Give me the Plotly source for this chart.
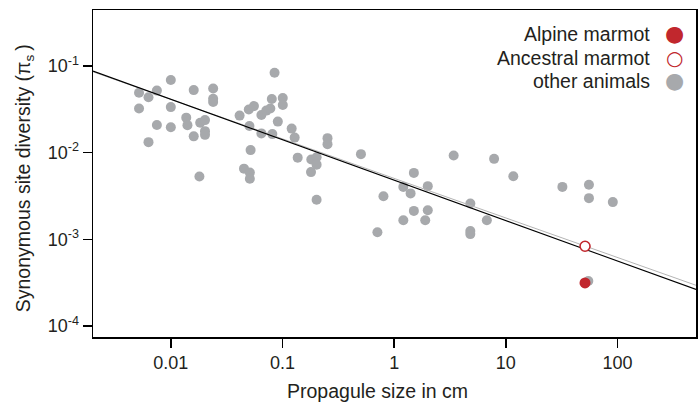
import plotly.graph_objects as go

# ---- data ----
other_size_cm = [
    0.00519, 0.00519, 0.00631, 0.00631, 0.00750, 0.00750, 0.0100, 0.0100, 0.0100,
    0.01374, 0.01409, 0.01603, 0.01603, 0.01803, 0.01832, 0.02023, 0.02023, 0.02023,
    0.02393, 0.02393, 0.02393, 0.0413, 0.0499, 0.0506, 0.0555, 0.0518, 0.0452,
    0.0510, 0.0510, 0.0647, 0.0647, 0.0716, 0.0778, 0.0802, 0.0849, 0.0811,
    0.0908, 0.1005, 0.1006, 0.1208, 0.1285, 0.1368, 0.181, 0.180, 0.202,
    0.202, 0.202, 0.253, 0.253, 0.504, 0.708, 0.802, 1.208, 1.208,
    1.403, 1.501, 1.501, 1.897, 2.000, 2.000, 3.41, 4.81, 4.81,
    4.81, 6.76, 7.85, 11.67, 32.1, 55.5, 55.5, 90.8, 54.8,
]
other_pi_s = [
    0.0492, 0.0323, 0.0436, 0.01324, 0.0521, 0.0209, 0.0689, 0.0336, 0.0197,
    0.0254, 0.0208, 0.0528, 0.01545, 0.00532, 0.02213, 0.02377, 0.01774, 0.01607,
    0.0550, 0.0419, 0.0384, 0.0268, 0.0315, 0.0203, 0.0345, 0.01071, 0.00655,
    0.00589, 0.00501, 0.01671, 0.0272, 0.0306, 0.0323, 0.0416, 0.0837, 0.01640,
    0.02286, 0.0427, 0.0355, 0.01897, 0.01493, 0.00877, 0.00836, 0.00597, 0.00885,
    0.00728, 0.00287, 0.01473, 0.01256, 0.00962, 0.00121, 0.00315, 0.00403, 0.00166,
    0.00339, 0.00585, 0.00213, 0.00166, 0.00411, 0.00217, 0.00929, 0.00259, 0.00125,
    0.00115, 0.00166, 0.00849, 0.00536, 0.00403, 0.00426, 0.00299, 0.00269, 0.000331,
]
alpine_size_cm = [51.2]
alpine_pi_s = [0.000314]
ancestral_size_cm = [51.2]
ancestral_pi_s = [0.000833]

# regression lines (end points)
fit_all_x = [0.00201, 505.0]
fit_all_y = [0.0875, 0.000264]
fit_other_x = [0.00201, 505.0]
fit_other_y = [0.0859, 0.000295]

x_tickvals = [0.01, 0.1, 1, 10, 100]
x_ticktext = ["0.01", "0.1", "1", "10", "100"]
y_tickvals = [1e-4, 1e-3, 1e-2, 1e-1]
y_ticktext = ["10<sup>-4</sup>", "10<sup>-3</sup>", "10<sup>-2</sup>", "10<sup>-1</sup>"]

legend_labels = ["Alpine marmot", "Ancestral marmot", "other animals"]
legend_glyphs = ["\u25CF", "\u25CB", "\u25CF"]

GRAY = "#A7A9AC"
RED = "#C1272D"
TXT = "#231F20"
FONT = "Liberation Sans, Arial, Helvetica, sans-serif"

fig = go.Figure()
fig.add_trace(go.Scatter(
    x=other_size_cm, y=other_pi_s, mode="markers",
    marker=dict(size=10, color=GRAY, line=dict(width=0)), name="other animals"))
fig.add_trace(go.Scatter(
    x=fit_other_x, y=fit_other_y, mode="lines",
    line=dict(color="#B5B5B5", width=1), name="fit other"))
fig.add_trace(go.Scatter(
    x=fit_all_x, y=fit_all_y, mode="lines",
    line=dict(color="#000000", width=1.1), name="fit"))
fig.add_trace(go.Scatter(
    x=alpine_size_cm, y=alpine_pi_s, mode="markers",
    marker=dict(size=11, color=RED, line=dict(width=0)), name="Alpine marmot"))
fig.add_trace(go.Scatter(
    x=ancestral_size_cm, y=ancestral_pi_s, mode="markers",
    marker=dict(size=10, color="white", line=dict(color=RED, width=1.6)),
    name="Ancestral marmot"))

W, H = 700, 417
L, R, T, B = 93, 2, 10, 80
pw, ph = W - L - R, H - T - B

def px(xpix):
    return (xpix - L) / pw

def py(ypix):
    return (H - B - ypix) / ph

annotations = []
row_y = [33.8, 57.6, 80.5]
glyph_colors = [RED, RED, GRAY]
glyph_sizes = [22, 20, 22]
for lab, gl, yy, gc, gs in zip(legend_labels, legend_glyphs, row_y, glyph_colors, glyph_sizes):
    annotations.append(dict(
        x=px(654), y=py(yy), xref="paper", yref="paper", text=lab,
        showarrow=False, xanchor="right", yanchor="middle",
        font=dict(family=FONT, size=19.5, color=TXT)))
    annotations.append(dict(
        x=px(676), y=py(yy), xref="paper", yref="paper", text=gl,
        showarrow=False, xanchor="center", yanchor="middle",
        font=dict(family="DejaVu Sans", size=gs, color=gc)))

annotations.append(dict(
    x=px(378), y=py(391), xref="paper", yref="paper",
    text="Propagule size in cm", showarrow=False,
    xanchor="center", yanchor="middle",
    font=dict(family=FONT, size=19.5, color=TXT)))
annotations.append(dict(
    x=px(24), y=py(178), xref="paper", yref="paper",
    text="Synonymous site diversity (\u03C0<sub>s</sub>\u2009)", showarrow=False,
    textangle=-90, xanchor="center", yanchor="middle",
    font=dict(family=FONT, size=19.5, color=TXT)))

fig.update_layout(
    width=W, height=H,
    margin=dict(l=L, r=R, t=T, b=B, pad=0),
    paper_bgcolor="white", plot_bgcolor="white",
    showlegend=False,
    hovermode=False,
    font=dict(family=FONT, size=18, color=TXT),
    annotations=annotations,
)
fig.update_xaxes(
    type="log", range=[-2.697, 2.703],
    tickvals=x_tickvals, ticktext=x_ticktext,
    ticks="outside", ticklen=9, tickwidth=1.5, tickcolor="black",
    showline=True, linecolor="black", linewidth=1.5, mirror=True,
    showgrid=False, zeroline=False,
    tickfont=dict(family=FONT, size=18, color=TXT),
)
fig.update_yaxes(
    type="log", range=[-4.127, -0.353],
    tickvals=y_tickvals, ticktext=y_ticktext,
    ticks="outside", ticklen=9, tickwidth=1.5, tickcolor="black",
    showline=True, linecolor="black", linewidth=1.5, mirror=True,
    showgrid=False, zeroline=False,
    tickfont=dict(family=FONT, size=18, color=TXT),
)

fig.write_html(
    "out.html",
    config={"displayModeBar": False, "staticPlot": True},
    post_script="document.body.style.margin='0';document.body.style.overflow='hidden';",
)
